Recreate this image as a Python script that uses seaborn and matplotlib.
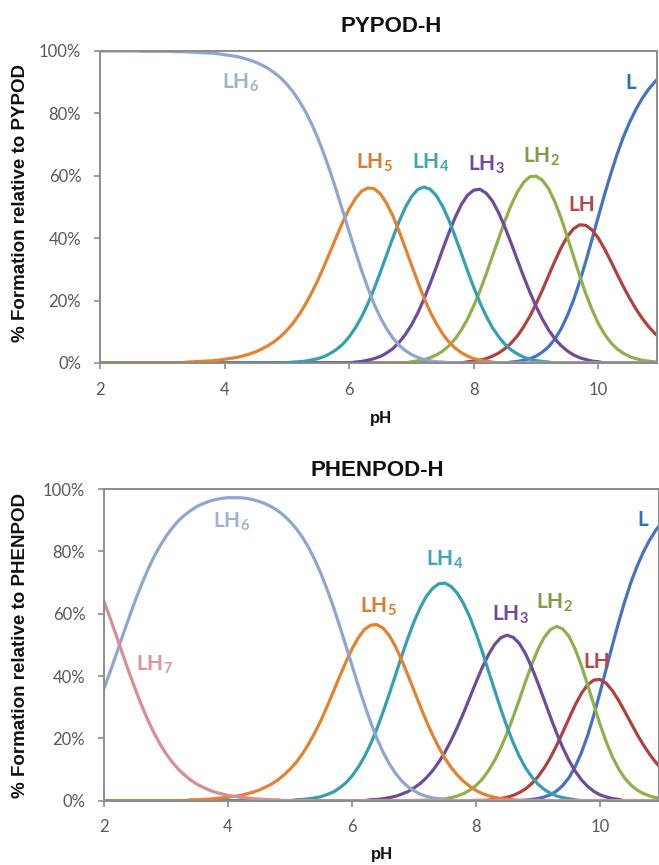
import numpy as np
import matplotlib
matplotlib.use('Agg')
import matplotlib.pyplot as plt
from matplotlib.ticker import FuncFormatter
import seaborn as sns

# ---------------- data ----------------
ph = [2.0, 2.1, 2.2, 2.3, 2.4, 2.5, 2.6, 2.7, 2.8, 2.9,
      3.0, 3.1, 3.2, 3.3, 3.4, 3.5, 3.6, 3.7, 3.8, 3.9,
      4.0, 4.1, 4.2, 4.3, 4.4, 4.5, 4.6, 4.7, 4.8, 4.9,
      5.0, 5.1, 5.2, 5.3, 5.4, 5.5, 5.6, 5.7, 5.8, 5.9,
      6.0, 6.1, 6.2, 6.3, 6.4, 6.5, 6.6, 6.7, 6.8, 6.9,
      7.0, 7.1, 7.2, 7.3, 7.4, 7.5, 7.6, 7.7, 7.8, 7.9,
      8.0, 8.1, 8.2, 8.3, 8.4, 8.5, 8.6, 8.7, 8.8, 8.9,
      9.0, 9.1, 9.2, 9.3, 9.4, 9.5, 9.6, 9.7, 9.8, 9.9,
      10.0, 10.1, 10.2, 10.3, 10.4, 10.5, 10.6, 10.7, 10.8, 10.9,
      11.0]

# PYPOD-H (% formation)
pypod_lh6 = [100, 100, 100, 100, 100, 100, 100, 99.9, 99.9, 99.9,
             99.9, 99.9, 99.8, 99.8, 99.7, 99.6, 99.5, 99.4, 99.3, 99.1,
             98.8, 98.5, 98.2, 97.7, 97.1, 96.4, 95.5, 94.4, 93.0, 91.4,
             89.3, 86.9, 83.9, 80.5, 76.5, 71.9, 66.7, 61.0, 54.9, 48.5,
             42.0, 35.7, 29.6, 24.0, 18.9, 14.6, 11.0, 8.0, 5.7, 4.0,
             2.7, 1.8, 1.1, 0.7, 0.4, 0.3, 0.1, 0.1, 0, 0,
             0, 0, 0, 0, 0, 0, 0, 0, 0, 0,
             0, 0, 0, 0, 0, 0, 0, 0, 0, 0,
             0, 0, 0, 0, 0, 0, 0, 0, 0, 0,
             0]
pypod_lh5 = [0, 0, 0, 0, 0, 0, 0, 0, 0, 0,
             0, 0, 0, 0, 0.3, 0.4, 0.5, 0.6, 0.7, 0.9,
             1.2, 1.5, 1.8, 2.3, 2.9, 3.6, 4.5, 5.6, 6.9, 8.5,
             10.5, 12.8, 15.6, 18.9, 22.6, 26.7, 31.2, 35.9, 40.7, 45.3,
             49.4, 52.7, 55.1, 56.1, 55.9, 54.2, 51.2, 47.2, 42.3, 36.9,
             31.4, 26.0, 20.9, 16.4, 12.6, 9.3, 6.8, 4.8, 3.3, 2.2,
             1.4, 0.9, 0.6, 0.3, 0, 0, 0, 0, 0, 0,
             0, 0, 0, 0, 0, 0, 0, 0, 0, 0,
             0, 0, 0, 0, 0, 0, 0, 0, 0, 0,
             0]
pypod_lh4 = [0, 0, 0, 0, 0, 0, 0, 0, 0, 0,
             0, 0, 0, 0, 0, 0, 0, 0, 0, 0,
             0, 0, 0, 0, 0, 0, 0, 0, 0, 0,
             0, 0.3, 0.4, 0.6, 1.0, 1.4, 2.1, 3.1, 4.4, 6.1,
             8.4, 11.3, 14.8, 19.0, 23.8, 29.1, 34.6, 40.1, 45.3, 49.8,
             53.3, 55.6, 56.4, 55.7, 53.6, 50.2, 45.8, 40.6, 35.1, 29.5,
             24.2, 19.3, 15.0, 11.3, 8.4, 6.0, 4.2, 2.9, 1.9, 1.2,
             0.8, 0.5, 0.3, 0, 0, 0, 0, 0, 0, 0,
             0, 0, 0, 0, 0, 0, 0, 0, 0, 0,
             0]
pypod_lh3 = [0, 0, 0, 0, 0, 0, 0, 0, 0, 0,
             0, 0, 0, 0, 0, 0, 0, 0, 0, 0,
             0, 0, 0, 0, 0, 0, 0, 0, 0, 0,
             0, 0, 0, 0, 0, 0, 0, 0, 0, 0,
             0, 0.3, 0.5, 0.9, 1.4, 2.1, 3.2, 4.6, 6.6, 9.1,
             12.2, 16.0, 20.5, 25.5, 30.8, 36.4, 41.7, 46.6, 50.8, 53.8,
             55.4, 55.7, 54.4, 51.9, 48.1, 43.5, 38.4, 33.0, 27.7, 22.7,
             18.1, 14.1, 10.6, 7.8, 5.6, 3.9, 2.6, 1.7, 1.1, 0.6,
             0.4, 0, 0, 0, 0, 0, 0, 0, 0, 0,
             0]
pypod_lh2 = [0, 0, 0, 0, 0, 0, 0, 0, 0, 0,
             0, 0, 0, 0, 0, 0, 0, 0, 0, 0,
             0, 0, 0, 0, 0, 0, 0, 0, 0, 0,
             0, 0, 0, 0, 0, 0, 0, 0, 0, 0,
             0, 0, 0, 0, 0, 0, 0, 0, 0, 0,
             0.4, 0.7, 1.1, 1.7, 2.6, 3.8, 5.5, 7.7, 10.6, 14.1,
             18.4, 23.2, 28.6, 34.3, 40.0, 45.6, 50.6, 54.8, 57.9, 59.7,
             59.9, 58.6, 55.9, 51.7, 46.5, 40.5, 34.2, 27.9, 22.1, 17.0,
             12.6, 9.2, 6.5, 4.5, 3.1, 2.1, 1.4, 0.9, 0.6, 0.4,
             0]
pypod_lh = [0, 0, 0, 0, 0, 0, 0, 0, 0, 0,
            0, 0, 0, 0, 0, 0, 0, 0, 0, 0,
            0, 0, 0, 0, 0, 0, 0, 0, 0, 0,
            0, 0, 0, 0, 0, 0, 0, 0, 0, 0,
            0, 0, 0, 0, 0, 0, 0, 0, 0, 0,
            0, 0, 0, 0, 0, 0, 0, 0, 0, 0.4,
            0.6, 0.9, 1.4, 2.2, 3.2, 4.6, 6.4, 8.7, 11.6, 15.0,
            19.0, 23.3, 28.0, 32.6, 36.9, 40.5, 43.0, 44.3, 44.1, 42.6,
            40.0, 36.5, 32.6, 28.5, 24.5, 20.8, 17.4, 14.4, 11.8, 9.6,
            7.8]
pypod_l = [0, 0, 0, 0, 0, 0, 0, 0, 0, 0,
           0, 0, 0, 0, 0, 0, 0, 0, 0, 0,
           0, 0, 0, 0, 0, 0, 0, 0, 0, 0,
           0, 0, 0, 0, 0, 0, 0, 0, 0, 0,
           0, 0, 0, 0, 0, 0, 0, 0, 0, 0,
           0, 0, 0, 0, 0, 0, 0, 0, 0, 0,
           0, 0, 0, 0, 0, 0, 0.3, 0.5, 0.9, 1.4,
           2.2, 3.5, 5.2, 7.6, 10.9, 15.1, 20.1, 26.1, 32.7, 39.8,
           47.0, 54.1, 60.7, 66.9, 72.4, 77.1, 81.2, 84.7, 87.6, 90.0,
           91.9]

# PHENPOD-H (% formation)
phenpod_lh7 = [64.0, 58.5, 52.9, 47.1, 41.4, 36.0, 30.9, 26.2, 22.0, 18.3,
               15.1, 12.4, 10.1, 8.2, 6.6, 5.3, 4.3, 3.4, 2.7, 2.2,
               1.7, 1.4, 1.1, 0.9, 0.7, 0.5, 0.4, 0.3, 0.3, 0,
               0, 0, 0, 0, 0, 0, 0, 0, 0, 0,
               0, 0, 0, 0, 0, 0, 0, 0, 0, 0,
               0, 0, 0, 0, 0, 0, 0, 0, 0, 0,
               0, 0, 0, 0, 0, 0, 0, 0, 0, 0,
               0, 0, 0, 0, 0, 0, 0, 0, 0, 0,
               0, 0, 0, 0, 0, 0, 0, 0, 0, 0,
               0]
phenpod_lh6 = [36.0, 41.4, 47.1, 52.9, 58.5, 64.0, 69.1, 73.8, 78.0, 81.6,
               84.8, 87.5, 89.8, 91.6, 93.1, 94.4, 95.3, 96.1, 96.6, 97.0,
               97.2, 97.2, 97.2, 97.0, 96.6, 96.0, 95.3, 94.3, 93.1, 91.5,
               89.6, 87.3, 84.5, 81.2, 77.3, 72.8, 67.7, 62.2, 56.1, 49.8,
               43.4, 37.0, 30.9, 25.2, 20.1, 15.6, 11.9, 8.8, 6.4, 4.5,
               3.2, 2.1, 1.4, 0.9, 0.6, 0.4, 0, 0, 0, 0,
               0, 0, 0, 0, 0, 0, 0, 0, 0, 0,
               0, 0, 0, 0, 0, 0, 0, 0, 0, 0,
               0, 0, 0, 0, 0, 0, 0, 0, 0, 0,
               0]
phenpod_lh5 = [0, 0, 0, 0, 0, 0, 0, 0, 0, 0,
               0, 0, 0, 0, 0.3, 0.3, 0.4, 0.5, 0.7, 0.9,
               1.1, 1.4, 1.7, 2.2, 2.7, 3.4, 4.3, 5.3, 6.6, 8.2,
               10.1, 12.3, 15.0, 18.2, 21.8, 25.8, 30.3, 35.0, 39.8, 44.4,
               48.7, 52.2, 54.9, 56.3, 56.5, 55.4, 53.0, 49.5, 45.2, 40.4,
               35.4, 30.3, 25.5, 21.1, 17.1, 13.6, 10.6, 8.2, 6.2, 4.6,
               3.3, 2.3, 1.6, 1.1, 0.7, 0.5, 0.3, 0, 0, 0,
               0, 0, 0, 0, 0, 0, 0, 0, 0, 0,
               0, 0, 0, 0, 0, 0, 0, 0, 0, 0,
               0]
phenpod_lh4 = [0, 0, 0, 0, 0, 0, 0, 0, 0, 0,
               0, 0, 0, 0, 0, 0, 0, 0, 0, 0,
               0, 0, 0, 0, 0, 0, 0, 0, 0, 0,
               0, 0.3, 0.4, 0.6, 0.9, 1.3, 2.0, 2.8, 4.1, 5.7,
               7.9, 10.7, 14.1, 18.2, 23.0, 28.4, 34.2, 40.2, 46.3, 52.1,
               57.4, 61.9, 65.6, 68.1, 69.6, 69.8, 68.7, 66.5, 63.2, 58.9,
               53.7, 47.9, 41.7, 35.5, 29.4, 23.7, 18.6, 14.2, 10.5, 7.6,
               5.3, 3.6, 2.4, 1.5, 1.0, 0.6, 0.3, 0, 0, 0,
               0, 0, 0, 0, 0, 0, 0, 0, 0, 0,
               0]
phenpod_lh3 = [0, 0, 0, 0, 0, 0, 0, 0, 0, 0,
               0, 0, 0, 0, 0, 0, 0, 0, 0, 0,
               0, 0, 0, 0, 0, 0, 0, 0, 0, 0,
               0, 0, 0, 0, 0, 0, 0, 0, 0, 0,
               0, 0, 0, 0.3, 0.4, 0.6, 1.0, 1.4, 2.1, 2.9,
               4.1, 5.5, 7.4, 9.6, 12.4, 15.6, 19.4, 23.6, 28.2, 33.1,
               38.0, 42.7, 46.8, 50.1, 52.3, 53.1, 52.4, 50.4, 47.1, 42.7,
               37.7, 32.3, 26.9, 21.7, 17.0, 12.9, 9.5, 6.7, 4.6, 3.0,
               1.9, 1.2, 0.7, 0.4, 0, 0, 0, 0, 0, 0,
               0]
phenpod_lh2 = [0, 0, 0, 0, 0, 0, 0, 0, 0, 0,
               0, 0, 0, 0, 0, 0, 0, 0, 0, 0,
               0, 0, 0, 0, 0, 0, 0, 0, 0, 0,
               0, 0, 0, 0, 0, 0, 0, 0, 0, 0,
               0, 0, 0, 0, 0, 0, 0, 0, 0, 0,
               0.1, 0.1, 0.2, 0.2, 0.4, 0.6, 1.0, 1.5, 2.3, 3.4,
               4.9, 6.9, 9.6, 12.9, 16.9, 21.6, 26.9, 32.5, 38.3, 43.7,
               48.6, 52.4, 54.9, 55.9, 55.1, 52.7, 48.6, 43.3, 37.2, 30.8,
               24.5, 18.9, 14.1, 10.2, 7.2, 5.0, 3.4, 2.3, 1.5, 1.0,
               0.6]
phenpod_lh = [0, 0, 0, 0, 0, 0, 0, 0, 0, 0,
              0, 0, 0, 0, 0, 0, 0, 0, 0, 0,
              0, 0, 0, 0, 0, 0, 0, 0, 0, 0,
              0, 0, 0, 0, 0, 0, 0, 0, 0, 0,
              0, 0, 0, 0, 0, 0, 0, 0, 0, 0,
              0, 0, 0, 0, 0, 0, 0, 0, 0, 0,
              0.1, 0.1, 0.2, 0.4, 0.7, 1.1, 1.7, 2.6, 3.8, 5.5,
              7.7, 10.5, 13.8, 17.7, 22.0, 26.4, 30.7, 34.4, 37.2, 38.7,
              38.9, 37.7, 35.3, 32.2, 28.6, 24.9, 21.2, 17.9, 14.9, 12.3,
              10.0]
phenpod_l = [0, 0, 0, 0, 0, 0, 0, 0, 0, 0,
             0, 0, 0, 0, 0, 0, 0, 0, 0, 0,
             0, 0, 0, 0, 0, 0, 0, 0, 0, 0,
             0, 0, 0, 0, 0, 0, 0, 0, 0, 0,
             0, 0, 0, 0, 0, 0, 0, 0, 0, 0,
             0, 0, 0, 0, 0, 0, 0, 0, 0, 0,
             0, 0, 0, 0, 0, 0, 0.1, 0.1, 0.2, 0.4,
             0.7, 1.2, 1.9, 3.1, 4.9, 7.4, 10.9, 15.4, 20.9, 27.4,
             34.7, 42.3, 49.9, 57.2, 64.0, 70.1, 75.3, 79.8, 83.6, 86.8,
             89.3]

species_top = ['LH$_6$', 'LH$_5$', 'LH$_4$', 'LH$_3$', 'LH$_2$', 'LH', 'L']
species_bot = ['LH$_7$'] + species_top
y_ticks = [0, 20, 40, 60, 80, 100]
x_ticks = [2, 4, 6, 8, 10]
titles = ['PYPOD-H', 'PHENPOD-H']
ylabels = ['% Formation relative to PYPOD', '% Formation relative to PHENPOD']

top_series = [pypod_lh6, pypod_lh5, pypod_lh4, pypod_lh3, pypod_lh2, pypod_lh, pypod_l]
bot_series = [phenpod_lh7, phenpod_lh6, phenpod_lh5, phenpod_lh4, phenpod_lh3,
              phenpod_lh2, phenpod_lh, phenpod_l]

# ---------------- styling ----------------
sns.set_theme(style='white')
plt.rcParams['font.family'] = ['Lato', 'DejaVu Sans']
plt.rcParams['mathtext.fontset'] = 'custom'
plt.rcParams['mathtext.rm'] = 'Lato'
plt.rcParams['mathtext.bf'] = 'Lato:bold'
plt.rcParams['mathtext.default'] = 'regular'

cols_top = ['#8FA6D0', '#E5822F', '#35A0B3', '#6E4B9B', '#8FB04D', '#B0413E', '#4472C4']
cols_bot = ['#D98E94'] + cols_top
lab_top = ['#9DB2D6', '#E4782A', '#3FA6BC', '#7347A0', '#7E9B45', '#B9474A', '#2673C2']
lab_bot = ['#D9959A'] + lab_top
pos_top = [(4.25, 89.7), (6.41, 64.1), (7.31, 64.1), (8.20, 63.5), (9.08, 66.0),
           (9.74, 50.6), (10.52, 89.7)]
pos_bot = [(2.82, 43.5), (4.05, 89.4), (6.42, 62.1), (7.50, 77.2), (8.56, 59.6),
           (9.27, 63.4), (9.95, 44.5), (10.69, 90.1)]

fig = plt.figure(figsize=(6.59, 8.65), dpi=100)
ax1 = fig.add_axes([100/659, 1-363/865, 557/659, 312/865])
ax2 = fig.add_axes([104/659, 1-800.7/865, 555/659, 311.7/865])

x = np.array(ph)
for ax, series, cols, labc, names, pos in [
        (ax1, top_series, cols_top, lab_top, species_top, pos_top),
        (ax2, bot_series, cols_bot, lab_bot, species_bot, pos_bot)]:
    for i in range(len(series) - 1, -1, -1):
        sns.lineplot(x=x, y=np.array(series[i]), color=cols[i], lw=2.3, ax=ax,
                     estimator=None, sort=False)
    for i in range(len(series)):
        ax.text(pos[i][0], pos[i][1], names[i], color=labc[i], fontsize=15,
                fontweight='bold', ha='center', va='center')
    ax.set_ylim(0, 100)
    ax.set_yticks(y_ticks)
    ax.set_xticks(x_ticks)
    ax.yaxis.set_major_formatter(FuncFormatter(lambda v, p: f'{int(v)}%'))
    ax.tick_params(axis='both', which='major', length=4, width=1.2, color='#8C8C8C',
                   labelsize=12, labelcolor='#595959', direction='out')
    ax.tick_params(axis='y', pad=9.5, left=True)
    ax.tick_params(axis='x', pad=9.5, bottom=True)
    for sp in ax.spines.values():
        sp.set_color('#8C8C8C')
        sp.set_linewidth(1.4)
    ax.set_xlabel('')
    ax.set_ylabel('')
ax1.set_xlim(2, 2 + 557/62.3)
ax2.set_xlim(2, 2 + 555/62)

tf = dict(family=['Liberation Sans', 'DejaVu Sans'], fontweight='bold', color='#111111')
fig.text(391.5/659, 1-27/865, titles[0], fontsize=16, ha='center', va='center', **tf)
fig.text(377.5/659, 1-471/865, titles[1], fontsize=16, ha='center', va='center', **tf)
fig.text(21/659, 1-202.5/865, ylabels[0], fontsize=13.5, rotation=90,
         ha='center', va='center', **tf)
fig.text(21/659, 1-646/865, ylabels[1], fontsize=13.5, rotation=90,
         ha='center', va='center', **tf)
fig.text(381/659, 1-419/865, 'pH', fontsize=12, ha='center', va='center', **tf)
fig.text(382/659, 1-855/865, 'pH', fontsize=12, ha='center', va='center', **tf)

fig.savefig('out.png', dpi=100)
